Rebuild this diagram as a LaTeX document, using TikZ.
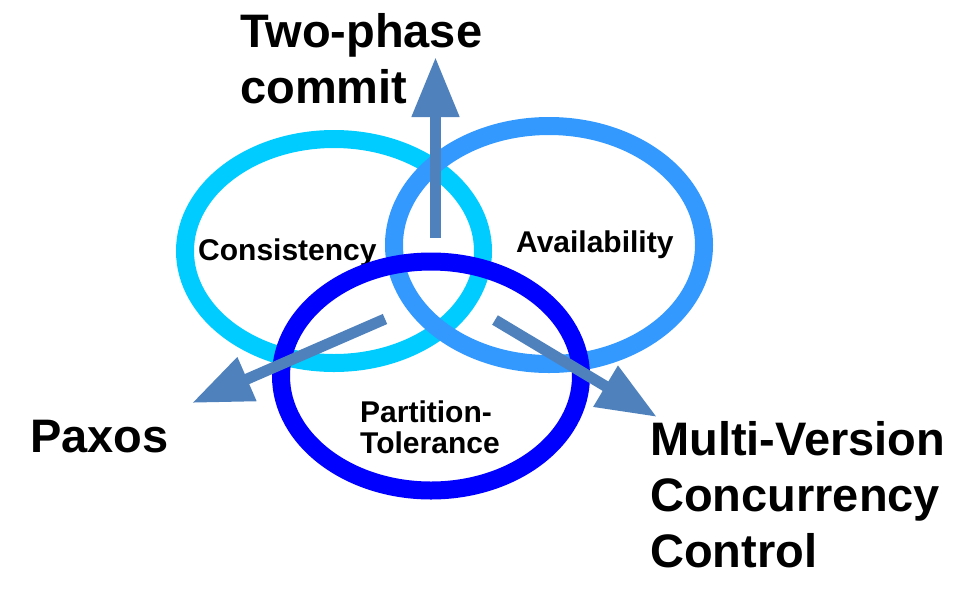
\documentclass[tikz,border=0pt]{standalone}
\usepackage{fontspec}
\setmainfont{Liberation Sans}
\usetikzlibrary{arrows.meta, shapes.geometric}
\definecolor{consblue}{HTML}{00CCFF}
\definecolor{availblue}{HTML}{3399FF}
\definecolor{partblue}{HTML}{0000FF}
\definecolor{arrowblue}{HTML}{4F81BD}

\begin{document}
\begin{tikzpicture}[
    x=1pt, y=-1pt,
    ring/.style={ellipse, draw=#1, line width=18pt, inner sep=0pt},
    big/.style={font=\fontsize{47}{56}\selectfont\bfseries, align=left, inner sep=0pt, anchor=base west},
    small/.style={font=\fontsize{30}{31}\selectfont\bfseries, align=left, inner sep=0pt, anchor=base west},
    arrow/.style={-{Triangle[length=60pt, width=45pt]}, line width=11pt, draw=arrowblue}
]
\useasboundingbox (0,0) rectangle (956,595);

% Consistency and availability
\node[ring=consblue, minimum width=298pt, minimum height=224pt] (C) at (334,251) {};
\node[ring=availblue, minimum width=310pt, minimum height=238pt] (A) at (549,245) {};
\node[small] (Ctext) at (198,260) {Consistency};
\node[small] (Atext) at (516,252) {Availability};

% Partition-tolerance
\node[ring=partblue, minimum width=300pt, minimum height=229pt] (P) at (431,376) {};
\node[small] (Ptext) at (360,453) {Partition-\\Tolerance};

% Protocols (base anchor sits on the last line)
\node[big] (twophase) at (240,103) {Two-phase\\commit};
\node[big] (paxos) at (30,452) {Paxos};
\node[big] (mvcc) at (650,567) {Multi-Version\\Concurrency\\Control};

% Arrows
\coordinate (upTail) at (435.5,238);
\coordinate (upTip) at (435.5,57);
\coordinate (leftTail) at (385,319);
\coordinate (leftTip) at (192,403);
\coordinate (rightTail) at (495,320);
\coordinate (rightTip) at (657,417);

\draw[arrow] (upTail) -- (upTip);
\draw[arrow] (leftTail) -- (leftTip);
\draw[arrow] (rightTail) -- (rightTip);
\end{tikzpicture}
\end{document}
